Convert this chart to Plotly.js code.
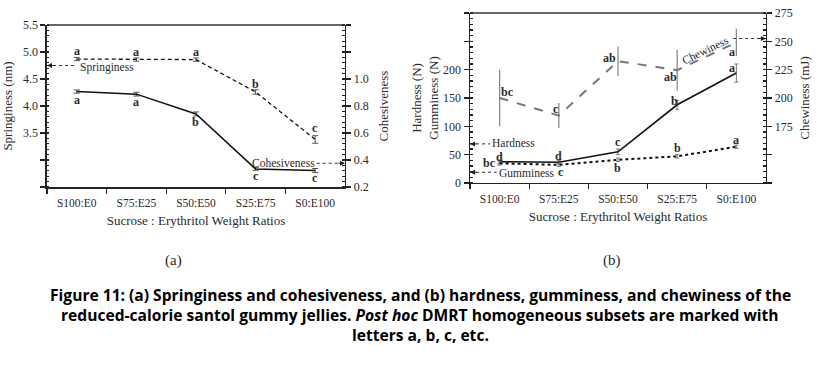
<!DOCTYPE html>
<html><head><meta charset="utf-8">
<script src="https://cdn.plot.ly/plotly-3.0.1.min.js"></script>
<style>html,body{margin:0;padding:0;background:#fff;}#chart{width:820px;height:369px;}</style>
</head><body><div id="chart"></div>
<script>
// ---------- data ----------
const categories = ['S100:E0','S75:E25','S50:E50','S25:E75','S0:E100'];
const springiness = [4.87, 4.86, 4.86, 4.26, 3.38];
const springinessErr = [0.03, 0.03, 0.03, 0.04, 0.07];
const springinessLetters = ['a','a','a','b','c'];
const cohesiveness = [0.907, 0.888, 0.741, 0.334, 0.322];
const cohesivenessErr = [0.012, 0.014, 0.015, 0.010, 0.015];
const cohesivenessLetters = ['a','a','b','c','c'];
const hardness = [37.5, 36.5, 55, 138, 194];
const hardnessErr = [3, 3, 5, 8, 16];
const hardnessLetters = ['d','d','c','b','a'];
const gumminess = [34.7, 32, 41, 47, 64];
const gumminessErr = [3, 3, 3, 3, 3];
const gumminessLetters = ['bc','c','b','b','a'];
const chewiness = [200, 184.5, 232.5, 224.6, 249];
const chewinessErr = [25, 11, 13, 18, 12];
const chewinessLetters = ['bc','c','ab','ab','a'];
const springTicks = [2.5, 3, 3.5, 4, 4.5, 5, 5.5];
const springTickText = ['', '', '3.5', '4.0', '4.5', '5.0', '5.5'];
const cohTicks = [0.2, 0.4, 0.6, 0.8, 1.0, 1.2, 1.4];
const cohTickText = ['0.2', '0.4', '0.6', '0.8', '1.0', '', ''];
const hardTicks = [0, 50, 100, 150, 200, 250, 300];
const hardTickText = ['0', '50', '100', '150', '200', '', ''];
const chewTicks = [125, 150, 175, 200, 225, 250, 275];
const chewTickText = ['', '', '175', '200', '225', '250', '275'];

// ---------- styles ----------
const SERIF = 'Liberation Serif';
const TXT = '#2a2a2a';
const AX = '#222';
const GRID = '#8a8a8a';
const DOM_A_X = [0.0573, 0.4207], DOM_A_Y = [0.4932, 0.9322];
const DOM_B_X = [0.5732, 0.9341], DOM_B_Y = [0.5041, 0.9648];

// letter offsets (px) [xshift, yshift]
const springOff = [[0,8],[0,8],[0,8],[0,8],[0,11]];
const cohOff = [[0,-8],[0,-8],[0,-8],[0,-7],[0,-7]];
const hardOff = [[0,4.5],[0,6],[0,10],[-3,4],[-4,5]];
const gumOff = [[-10,0],[2,-7],[0,-8],[0,8],[0,7]];
const chewOff = [[8,6],[-3,7],[-8,3],[-7,-7],[-4,-10]];

function letterAnns(vals, letters, offs, xref, yref) {
  return vals.map((v, i) => ({
    x: categories[i], y: v, xref: xref, yref: yref, text: '<b>' + letters[i] + '</b>',
    showarrow: false, xshift: offs[i][0], yshift: offs[i][1], xanchor: 'center', yanchor: 'middle',
    font: {family: SERIF, size: 12, color: TXT}
  }));
}

const traces = [
  {x: categories, y: springiness, xaxis: 'x', yaxis: 'y', mode: 'lines', name: 'Springiness',
   line: {color: '#111', width: 1.3, dash: '4px,3px'},
   error_y: {type: 'data', array: springinessErr, visible: true, color: '#555', thickness: 1, width: 3}},
  {x: categories, y: cohesiveness, xaxis: 'x', yaxis: 'y2', mode: 'lines', name: 'Cohesiveness',
   line: {color: '#111', width: 1.5},
   error_y: {type: 'data', array: cohesivenessErr, visible: true, color: '#555', thickness: 1, width: 3}},
  {x: categories, y: chewiness, xaxis: 'x2', yaxis: 'y4', mode: 'lines', name: 'Chewiness',
   line: {color: '#777', width: 2, dash: 'dash'},
   error_y: {type: 'data', array: chewinessErr, visible: true, color: '#8a8a8a', thickness: 1.3, width: 0}},
  {x: categories, y: hardness, xaxis: 'x2', yaxis: 'y3', mode: 'lines', name: 'Hardness',
   line: {color: '#111', width: 1.6},
   error_y: {type: 'data', array: hardnessErr, visible: true, color: '#777', thickness: 1, width: 2}},
  {x: categories, y: gumminess, xaxis: 'x2', yaxis: 'y3', mode: 'lines', name: 'Gumminess',
   line: {color: '#111', width: 2, dash: 'dot'},
   error_y: {type: 'data', array: gumminessErr, visible: true, color: '#777', thickness: 1, width: 2}}
];

const xCommon = {
  type: 'category', range: [-0.5, 4.5], tickson: 'boundaries', ticks: 'outside', ticklen: 5,
  tickcolor: AX, tickwidth: 1.2, showline: true, linecolor: AX, linewidth: 1.5, showgrid: false,
  ticklabelstandoff: 5,
  tickfont: {family: SERIF, size: 11.5, color: TXT}, fixedrange: true
};
const yCommon = {
  showline: true, linecolor: AX, linewidth: 1.5, ticks: 'outside', ticklen: 5, tickcolor: AX,
  tickwidth: 1.2, showgrid: false, zeroline: false, tickmode: 'array',
  tickfont: {family: SERIF, size: 12, color: TXT}, fixedrange: true
};
const gridAxis = {showline: false, ticks: 'inside', ticklen: 4, tickcolor: AX, tickwidth: 1.2,
  showticklabels: false, showgrid: true, gridcolor: GRID, gridwidth: 1, zeroline: false, tickmode: 'array'};
const topAxis = {side: 'top', showline: true, linecolor: '#333', linewidth: 1.3, ticks: '', showticklabels: false,
  showgrid: false, zeroline: false, range: [0, 1], fixedrange: true};

const layout = {
  width: 820, height: 369, margin: {l: 0, r: 0, t: 0, b: 0},
  paper_bgcolor: '#fff', plot_bgcolor: 'rgba(0,0,0,0)', showlegend: false,
  font: {family: SERIF, color: TXT},
  xaxis: Object.assign({}, xCommon, {domain: DOM_A_X, anchor: 'y',
    title: {text: 'Sucrose : Erythritol Weight Ratios', font: {family: SERIF, size: 13, color: TXT}, standoff: 7}}),
  xaxis3: Object.assign({}, topAxis, {overlaying: 'x', anchor: 'y'}),
  yaxis: Object.assign({}, yCommon, {domain: DOM_A_Y, anchor: 'x', range: [2.5, 5.5],
    tickvals: springTicks, ticktext: springTickText,
    minor: {tickmode: 'linear', tick0: 2.5, dtick: 0.1, ticks: 'inside', ticklen: 2.5, tickcolor: AX},
    title: {text: 'Springiness (nm)', font: {family: SERIF, size: 13, color: TXT}}}),
  yaxis2: Object.assign({}, yCommon, {overlaying: 'y', side: 'right', anchor: 'x', range: [0.2, 1.4],
    tickvals: cohTicks, ticktext: cohTickText,
    minor: {tickmode: 'linear', tick0: 0.2, dtick: 0.04, ticks: 'inside', ticklen: 2.5, tickcolor: AX},
    title: {text: 'Cohesiveness', font: {family: SERIF, size: 13, color: TXT}}}),
  yaxis5: Object.assign({}, gridAxis, {overlaying: 'y', anchor: 'x', range: [2.5, 5.5],
    tickvals: [3, 3.5, 4, 4.5, 5]}),
  xaxis2: Object.assign({}, xCommon, {domain: DOM_B_X, anchor: 'y3',
    title: {text: 'Sucrose : Erythritol Weight Ratios', font: {family: SERIF, size: 13, color: TXT}, standoff: 7}}),
  xaxis4: Object.assign({}, topAxis, {overlaying: 'x2', anchor: 'y3'}),
  yaxis3: Object.assign({}, yCommon, {domain: DOM_B_Y, anchor: 'x2', range: [0, 300],
    tickvals: hardTicks, ticktext: hardTickText,
    minor: {tickmode: 'linear', tick0: 0, dtick: 10, ticks: 'inside', ticklen: 2.5, tickcolor: AX},
    title: {text: 'Hardness (N)<br>Gumminess (N)', font: {family: SERIF, size: 13, color: TXT}}}),
  yaxis4: Object.assign({}, yCommon, {overlaying: 'y3', side: 'right', anchor: 'x2', range: [125, 275],
    tickvals: chewTicks, ticktext: chewTickText,
    minor: {tickmode: 'linear', tick0: 125, dtick: 5, ticks: 'inside', ticklen: 2.5, tickcolor: AX},
    title: {text: 'Chewiness (mJ)', font: {family: SERIF, size: 13, color: TXT}}}),
  yaxis6: Object.assign({}, gridAxis, {overlaying: 'y3', anchor: 'x2', range: [0, 300],
    tickvals: [50, 100, 150, 200]}),
  yaxis7: Object.assign({}, gridAxis, {overlaying: 'y3', anchor: 'x2', range: [0, 300],
    tickvals: [250], gridcolor: '#c4c4c4'}),
  shapes: [
    // top frame lines
    {type: 'line', xref: 'paper', yref: 'paper', x0: DOM_A_X[0], x1: DOM_A_X[1], y0: DOM_A_Y[1], y1: DOM_A_Y[1], layer: 'above', line: {color: '#333', width: 1.3}},
    {type: 'line', xref: 'paper', yref: 'paper', x0: DOM_B_X[0], x1: DOM_B_X[1], y0: DOM_B_Y[1], y1: DOM_B_Y[1], layer: 'above', line: {color: '#333', width: 1.3}},
    // label leader lines
    {type: 'line', xref: 'x domain', yref: 'y', x0: 0, x1: 0.1, y0: 4.75, y1: 4.75, line: {color: '#333', width: 1, dash: 'dot'}},
    {type: 'line', xref: 'x domain', yref: 'y2', x0: 0.905, x1: 1, y0: 0.376, y1: 0.376, line: {color: '#333', width: 1, dash: 'dot'}},
    {type: 'line', xref: 'x2 domain', yref: 'y3', x0: 0, x1: 0.068, y0: 69, y1: 69, line: {color: '#333', width: 1, dash: 'dot'}},
    {type: 'line', xref: 'x2 domain', yref: 'y3', x0: 0, x1: 0.09, y0: 19, y1: 19, line: {color: '#333', width: 1, dash: 'dot'}},
    {type: 'line', xref: 'x2 domain', yref: 'y4', x0: 0.889, x1: 1, y0: 252.5, y1: 252.5, line: {color: '#333', width: 1, dash: 'dot'}}
  ],
  annotations: []
};

const A = layout.annotations;
// arrowheads
[['x domain','y',0,4.75,8],['x domain','y2',1,0.376,-8],['x2 domain','y3',0,69,8],['x2 domain','y3',0,19,8],['x2 domain','y4',1,252.5,-8]]
  .forEach(a => A.push({xref: a[0], yref: a[1], x: a[2], y: a[3], ax: a[4], ay: 0, text: '', showarrow: true,
    arrowhead: 2, arrowsize: 1, arrowwidth: 1, arrowcolor: '#222', standoff: 0}));
// series labels
const lab = (xref, yref, x, y, t, xa, extra) => Object.assign({xref, yref, x, y, text: t, showarrow: false,
  xanchor: xa, yanchor: 'middle', font: {family: SERIF, size: 11.5, color: TXT}}, extra || {});
A.push(lab('x domain', 'y', 0.104, 4.72, 'Springiness', 'left'));
A.push(lab('x domain', 'y2', 0.905, 0.378, 'Cohesiveness', 'right'));
A.push(lab('x2 domain', 'y3', 0.068, 70, 'Hardness', 'left'));
A.push(lab('x2 domain', 'y3', 0.09, 18, 'Gumminess', 'left'));
A.push(lab('x2 domain', 'y3 domain', 0.795, 0.785, 'Chewiness', 'center', {textangle: -26}));
// significance letters
A.push(...letterAnns(springiness, springinessLetters, springOff, 'x', 'y'));
A.push(...letterAnns(cohesiveness, cohesivenessLetters, cohOff, 'x', 'y2'));
A.push(...letterAnns(hardness, hardnessLetters, hardOff, 'x2', 'y3'));
A.push(...letterAnns(gumminess, gumminessLetters, gumOff, 'x2', 'y3'));
A.push(...letterAnns(chewiness, chewinessLetters, chewOff, 'x2', 'y4'));
// panel labels
const panel = (px, t) => ({xref: 'paper', yref: 'paper', x: px/820, y: 1 - 260/369, xanchor: 'center', yanchor: 'middle',
  text: t, showarrow: false, font: {family: SERIF, size: 15, color: TXT}});
A.push(panel(173, '(a)'));
A.push(panel(612, '(b)'));
// caption
const CAP = {family: 'Open Sans', size: 15.6, color: '#000'};
const capLines = [
  '<b>Figure 11: (a) Springiness and cohesiveness, and (b) hardness, gumminess, and chewiness of the</b>',
  '<b>reduced-calorie santol gummy jellies. <i>Post hoc</i> DMRT homogeneous subsets are marked with</b>',
  '<b>letters a, b, c, etc.</b>'
];
[294.5, 314.5, 334.5].forEach((py, i) => A.push({xref: 'paper', yref: 'paper', x: 420/820, y: 1 - py/369,
  xanchor: 'center', yanchor: 'middle', text: capLines[i], showarrow: false, font: CAP}));

Plotly.newPlot('chart', traces, layout, {staticPlot: true, displayModeBar: false});
</script></body></html>
